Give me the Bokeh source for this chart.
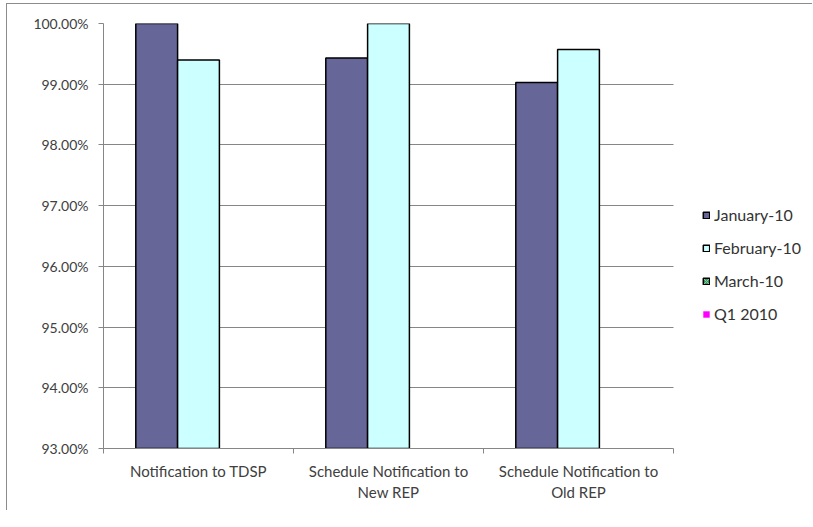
from bokeh.plotting import figure
from bokeh.models import (ColumnDataSource, Range1d, FixedTicker, NumeralTickFormatter,
                          Legend, LegendItem)
from bokeh.embed import file_html
from bokeh.resources import INLINE

categories = ["Notification to TDSP", "Schedule Notification to\nNew REP", "Schedule Notification to\nOld REP"]
jan_10 = [1.0000, 0.9943, 0.9903]
feb_10 = [0.9940, 1.0000, 0.9957]
mar_10 = [float("nan"), float("nan"), float("nan")]
q1_2010 = [float("nan"), float("nan"), float("nan")]
y_ticks = [0.93, 0.94, 0.95, 0.96, 0.97, 0.98, 0.99, 1.00]

FONT = "Lato"
TXT = "#404040"
GRID = "#868686"

W, H = 806, 507
LEFT, TOP, BOTTOM = 96, 19, 63
CAT_W = 570  # pixel width of the category area
n = len(categories)
x_end = n * (W - LEFT) / CAT_W

centers = [i + 0.5 for i in range(n)]
bw = 0.22
src = ColumnDataSource(dict(
    x_jan=[c - bw for c in centers], x_feb=centers, x_mar=[c + bw for c in centers],
    xc=centers, jan=jan_10, feb=feb_10, mar=mar_10, q1=q1_2010))

p = figure(width=W, height=H, output_backend="svg", toolbar_location=None,
           x_range=Range1d(0, x_end), y_range=Range1d(0.93, 1.0),
           min_border_left=LEFT, min_border_right=0, min_border_top=TOP, min_border_bottom=BOTTOM,
           styles={"margin-left": "6px", "margin-top": "3px",
                   "border-left": "1px solid #8c8c8c", "border-top": "1px solid #8c8c8c"})
p.outline_line_color = None
p.background_fill_color = "white"
p.border_fill_color = "white"

r_jan = p.vbar(x="x_jan", top="jan", bottom=0.93, width=bw, source=src,
               fill_color="#666699", line_color="black", line_width=1.5)
r_feb = p.vbar(x="x_feb", top="feb", bottom=0.93, width=bw, source=src,
               fill_color="#CCFFFF", line_color="black", line_width=1.5)
r_mar = p.vbar(x="x_mar", top="mar", bottom=0.93, width=bw, source=src,
               fill_color="#339966", line_color="black", line_width=1.5,
               hatch_pattern="x", hatch_color="#99CC99", hatch_scale=4)
r_q1 = p.vbar(x="xc", top="q1", bottom=0.93, width=bw, source=src,
              fill_color="#FF00FF", line_color=None)

xa = p.xaxis[0]
xa.bounds = (0, n)
xa.ticker = FixedTicker(ticks=centers, minor_ticks=list(range(n + 1)))
xa.major_label_overrides = {c: lab for c, lab in zip(centers, categories)}
xa.major_tick_line_color = None
xa.minor_tick_line_color = GRID
xa.minor_tick_in = 0
xa.minor_tick_out = 5
xa.axis_line_color = GRID
xa.major_label_text_font = FONT
xa.major_label_text_font_size = "15px"
xa.major_label_text_color = TXT
xa.major_label_standoff = 7

ya = p.yaxis[0]
ya.ticker = FixedTicker(ticks=y_ticks)
ya.formatter = NumeralTickFormatter(format="0.00%")
ya.axis_line_color = GRID
ya.major_tick_line_color = GRID
ya.major_tick_in = 0
ya.major_tick_out = 5
ya.minor_tick_line_color = None
ya.major_label_text_font = FONT
ya.major_label_text_font_size = "14px"
ya.major_label_text_color = TXT
ya.major_label_standoff = 10

p.xgrid.grid_line_color = None
try:
    p.ygrid.cross_bounds = (0, n)
    p.ygrid.ticker = FixedTicker(ticks=y_ticks[1:-1])
    p.ygrid.grid_line_color = GRID
except AttributeError:
    p.ygrid.grid_line_color = None
    gy = y_ticks[1:-1]
    p.segment(x0=[0] * len(gy), x1=[n] * len(gy), y0=gy, y1=gy, line_color=GRID, line_width=1,
              level="underlay")

legend = Legend(items=[
    LegendItem(label="January-10", renderers=[r_jan]),
    LegendItem(label="February-10", renderers=[r_feb]),
    LegendItem(label="March-10", renderers=[r_mar]),
    LegendItem(label="Q1 2010", renderers=[r_q1]),
], location=(599, 125))
legend.glyph_width = 8
legend.glyph_height = 8
legend.label_standoff = 4
legend.label_height = 15
legend.spacing = 14
legend.padding = 0
legend.margin = 0
legend.border_line_color = None
legend.background_fill_alpha = 0
legend.label_text_font = FONT
legend.label_text_font_size = "16px"
legend.label_text_color = "#333333"
p.add_layout(legend, "center")

open("out.html", "w").write(file_html(p, INLINE))
